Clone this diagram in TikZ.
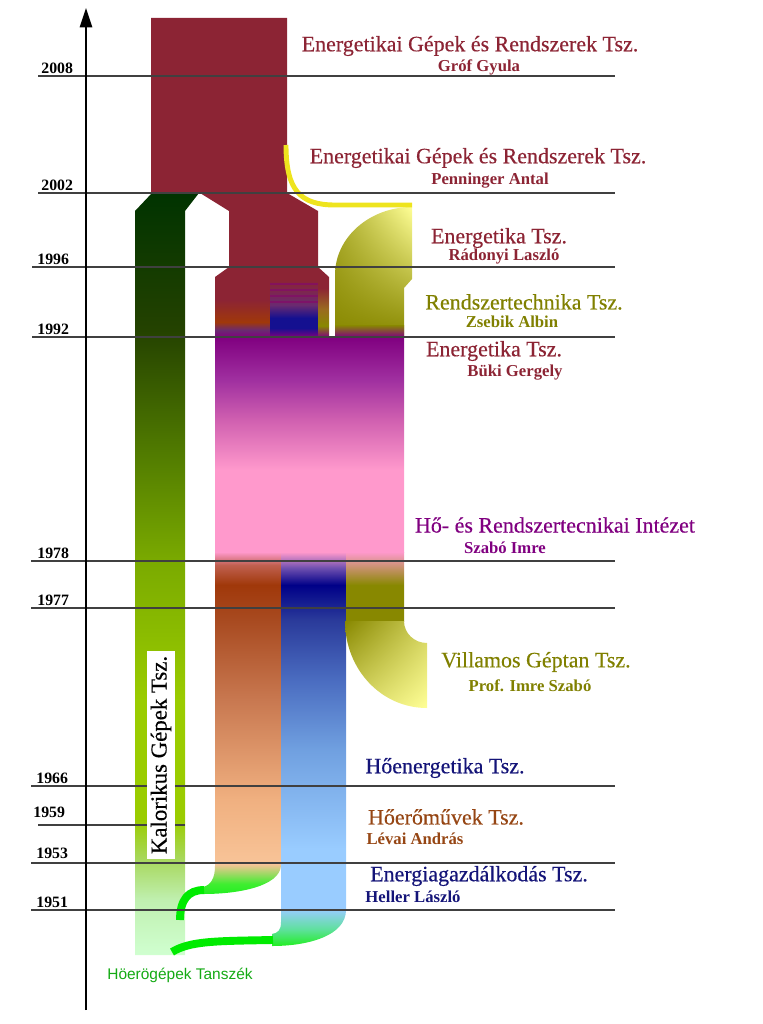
\documentclass[tikz,border=0pt]{standalone}
\usepackage{fontspec}
\setmainfont{Liberation Serif}
\setsansfont{Liberation Sans}
\newfontfamily\headfont[FakeBold=0.4]{Liberation Serif}
\usepackage{tikz}
\usetikzlibrary{arrows.meta}
\usetikzlibrary{shadings}

\definecolor{maroon}{RGB}{140,36,52}
\definecolor{olivetxt}{RGB}{128,128,0}
\definecolor{purpletxt}{RGB}{128,0,128}
\definecolor{navytxt}{RGB}{20,20,120}
\definecolor{browntxt}{RGB}{150,70,20}
\definecolor{labelgreen}{RGB}{20,170,20}
\definecolor{linkgreen}{RGB}{0,235,0}
\definecolor{linkyellow}{RGB}{238,228,30}
% colours of the columns
\definecolor{kg0}{RGB}{208,255,208}
\definecolor{kg1}{RGB}{192,240,176}
\definecolor{kg2}{RGB}{168,216,96}
\definecolor{kg3}{RGB}{154,204,0}
\definecolor{kg4}{RGB}{122,170,0}
\definecolor{kg5}{RGB}{80,122,0}
\definecolor{kg6}{RGB}{36,66,0}
\definecolor{kg7}{RGB}{0,51,0}
\definecolor{pink}{RGB}{255,153,204}
\definecolor{pk1}{RGB}{208,96,176}
\definecolor{pk2}{RGB}{160,48,160}
\definecolor{pk3}{RGB}{128,0,128}
\definecolor{rust}{RGB}{160,56,10}
\definecolor{br1}{RGB}{192,96,80}
\definecolor{br2}{RGB}{168,74,32}
\definecolor{br3}{RGB}{200,120,80}
\definecolor{br4}{RGB}{240,176,128}
\definecolor{peach}{RGB}{248,196,152}
\definecolor{tailgreen}{RGB}{34,238,34}
\definecolor{tail1}{RGB}{64,238,48}
\definecolor{bl0}{RGB}{96,224,160}
\definecolor{bl1}{RGB}{153,204,255}
\definecolor{bl2}{RGB}{112,160,224}
\definecolor{bl3}{RGB}{74,108,192}
\definecolor{bl4}{RGB}{42,58,154}
\definecolor{bl5}{RGB}{0,0,136}
\definecolor{bl6}{RGB}{112,80,176}
\definecolor{ol}{RGB}{136,136,0}
\definecolor{olpale}{RGB}{255,255,150}
\definecolor{navy}{RGB}{20,16,144}
\definecolor{mx1}{RGB}{106,42,112}
\definecolor{mx2}{RGB}{154,106,32}

\pgfdeclareverticalshading{kalorikus}{100bp}{color(0bp)=(kg0); color(25bp)=(kg0);
  color(28.6bp)=(kg1); color(31.2bp)=(kg2); color(33.9bp)=(kg3); color(41.7bp)=(kg3);
  color(50.9bp)=(kg4); color(58.1bp)=(kg5); color(66bp)=(kg6); color(75bp)=(kg7); color(100bp)=(kg7)}
\pgfdeclareverticalshading{intezet}{100bp}{color(0bp)=(pink); color(25bp)=(pink);
  color(44.1bp)=(pink); color(55.7bp)=(pk1); color(65bp)=(pk2); color(75bp)=(pk3); color(100bp)=(pk3)}
\pgfdeclareverticalshading{eromuvek}{100bp}{color(0bp)=(tailgreen); color(25bp)=(tailgreen);
  color(26.5bp)=(tail1); color(29.4bp)=(peach); color(38.8bp)=(br4); color(53.4bp)=(br3);
  color(65.1bp)=(br2); color(70.2bp)=(rust); color(73.1bp)=(br1); color(75bp)=(pink); color(100bp)=(pink)}
\pgfdeclareverticalshading{energetika}{100bp}{color(0bp)=(tailgreen); color(25bp)=(tailgreen);
  color(27.2bp)=(bl0); color(29.7bp)=(bl1); color(37.3bp)=(bl1); color(49.9bp)=(bl2);
  color(58.8bp)=(bl3); color(66.4bp)=(bl4); color(70.8bp)=(bl5); color(73bp)=(bl6);
  color(75bp)=(pink); color(100bp)=(pink)}
\pgfdeclareverticalshading{villamos}{100bp}{color(0bp)=(ol); color(25bp)=(ol);
  color(51bp)=(ol); color(75bp)=(pink); color(100bp)=(pink)}
\pgfdeclareverticalshading{mixA}{100bp}{color(0bp)=(pk3); color(25bp)=(pk3);
  color(30bp)=(mx1); color(35.7bp)=(rust); color(51.4bp)=(maroon); color(75bp)=(maroon); color(100bp)=(maroon)}
\pgfdeclareverticalshading{mixB}{100bp}{color(0bp)=(pk3); color(25bp)=(pk3);
  color(31.4bp)=(navy); color(38.6bp)=(navy); color(47.9bp)=(mx1); color(65.7bp)=(maroon);
  color(75bp)=(maroon); color(100bp)=(maroon)}
\pgfdeclareverticalshading{mixC}{100bp}{color(0bp)=(pk3); color(25bp)=(pk3);
  color(33bp)=(ol); color(45bp)=(mx2); color(60bp)=(maroon); color(100bp)=(maroon)}

\begin{document}
\begin{tikzpicture}[x=0.02cm, y=-0.02cm,
    yearline/.style={draw=black!75, line width=0.6pt},
    yearlabel/.style={anchor=base west, inner sep=0pt, font=\bfseries\fontsize{9}{10}\selectfont},
    title/.style={inner sep=0pt, font=\headfont\fontsize{12.5}{14}\selectfont},
    person/.style={inner sep=0pt, font=\bfseries\fontsize{9.5}{11}\selectfont},
    link/.style={draw=linkgreen, line width=4.5pt},
  ]
  \useasboundingbox (0,0) rectangle (762,1024);

  % departments
  \fill [maroon] (151,18) -- (287,18) -- (287,193) -- (318,211) -- (318,267)
    -- (229,267) -- (229,211) -- (200,193) -- (151,193) -- cycle;
  \shade [shading=mixA] (229,267) -- (270,267) -- (270,337) -- (215,337) -- (215,277) -- cycle;
  \shade [shading=mixB] (270,267) rectangle (318,337);
  \foreach \s in {283, 289, 295, 301} {
    \fill [purpletxt!70!maroon, opacity=0.7] (270,\s) rectangle (318,\s+2);
  }
  \shade [shading=mixC] (318,267) -- (329,277) -- (329,337) -- (318,337) -- cycle;
  \shade [upper left=ol!70!olpale, upper right=olpale, lower left=ol, lower right=ol]
    (335,337) -- (335,275) .. controls (335,237) and (370,207) .. (412,207)
    -- (412,279) -- (404,288) -- (404,337) -- cycle;
  \shade [top color=ol, bottom color=pk3] (335,325) rectangle (404,337);
  \shade [shading=kalorikus] (152,193) -- (199,193) -- (185,211) -- (185,955)
    -- (135,955) -- (135,211) -- cycle;
  \shade [shading=intezet] (215,337) rectangle (404,552);
  \shade [shading=eromuvek] (215,552) -- (281,552) -- (281,866)
    .. controls (279,886) and (240,894) .. (203,894) -- (203,887)
    .. controls (211,885) and (215,878) .. (215,866) -- cycle;
  \shade [shading=energetika] (281,552) -- (346,552) -- (346,910)
    .. controls (346,935) and (310,946) .. (272,946) -- (272,934)
    .. controls (278,933) and (281,930) .. (281,922) -- cycle;
  \shade [shading=villamos] (346,552) rectangle (404,621);
  \shade [upper left=ol, upper right=ol!40!olpale, lower left=ol!35!olpale, lower right=olpale]
    (345,621) -- (404,621) .. controls (404,633) and (414,643) .. (427,643)
    -- (427,708) .. controls (381,708) and (345,669) .. (345,621) -- cycle;

  % links
  \draw [linkyellow, line width=2.8pt] (286,145) .. controls (286,190) and (300,205) .. (335,205) -- (412,205);
  \draw [link] (204,890) .. controls (188,890) and (180,900) .. (180,920);
  \draw [link] (273,940) .. controls (215,941) and (190,941) .. (172,952);

  % years
  \foreach \yr/\y/\xs/\xe in {2008/76/38/615, 2002/193/38/615, 1996/267/32/615,
      1992/337/32/615, 1978/561/31/615, 1977/608/31/615, 1966/786/31/615,
      1959/825/38/185, 1953/863/31/615, 1951/910/31/615} {
    \draw [yearline] (\xs,\y) -- (\xe,\y);
  }
  \foreach \yr/\y/\xs in {2008/73/41, 2002/190/41, 1996/264/37, 1992/334/37,
      1978/558/37, 1977/605/37, 1966/783/36, 1959/817/33, 1953/858/36, 1951/907/36} {
    \node [yearlabel] (y\yr) at (\xs,\y) {\yr};
  }
  % axis
  \draw [line width=1.1pt, -{Triangle[width=7pt, length=11pt]}] (86,1010) -- (86,8);

  \node [rotate=90, fill=white, inner sep=0pt, minimum width=118pt, minimum height=16pt,
    font=\headfont\fontsize{13}{15}\selectfont] (kalorikus) at (161,755) {Kalorikus Gépek Tsz.};

  % names
  \node [title, text=maroon] (egr1) at (470,46) {Energetikai Gépek és Rendszerek Tsz.};
  \node [person, text=maroon] (groof) at (479,67) {Gróf Gyula};
  \node [title, text=maroon] (egr2) at (478,158) {Energetikai Gépek és Rendszerek Tsz.};
  \node [person, text=maroon] (penninger) at (490,181) {Penninger Antal};
  \node [title, text=maroon] (eg1) at (499,238) {Energetika Tsz.};
  \node [person, text=maroon] (radonyi) at (504,257) {Rádonyi Laszló};
  \node [title, text=olivetxt] (rsz) at (524,302) {Rendszertechnika Tsz.};
  \node [person, text=olivetxt] (zsebik) at (512,322) {Zsebik Albin};
  \node [title, text=maroon] (eg2) at (494,351) {Energetika Tsz.};
  \node [person, text=maroon] (buki) at (515,373) {Büki Gergely};
  \node [title, text=purpletxt] (hri) at (555,525) {Hő- és Rendszertecnikai Intézet};
  \node [person, text=purpletxt] (szabo) at (505,548) {Szabó Imre};
  \node [title, text=olivetxt] (vgt) at (536,662) {Villamos Géptan Tsz.};
  \node [person, text=olivetxt] (prof) at (530,686) {Prof. Imre Szabó};
  \node [title, text=navytxt] (hoen) at (445,768) {Hőenergetika Tsz.};
  \node [title, text=browntxt] (hoer) at (446,817) {Hőerőművek Tsz.};
  \node [person, text=browntxt] (levai) at (415,839) {Lévai András};
  \node [title, text=navytxt] (egazd) at (479,876) {Energiagazdálkodás Tsz.};
  \node [person, text=navytxt] (heller) at (413,897) {Heller László};
  \node [inner sep=0pt, text=labelgreen, font=\sffamily\fontsize{8.8}{10}\selectfont]
    (hoerogepek) at (180,975) {Höerögépek Tanszék};

\end{tikzpicture}
\end{document}
